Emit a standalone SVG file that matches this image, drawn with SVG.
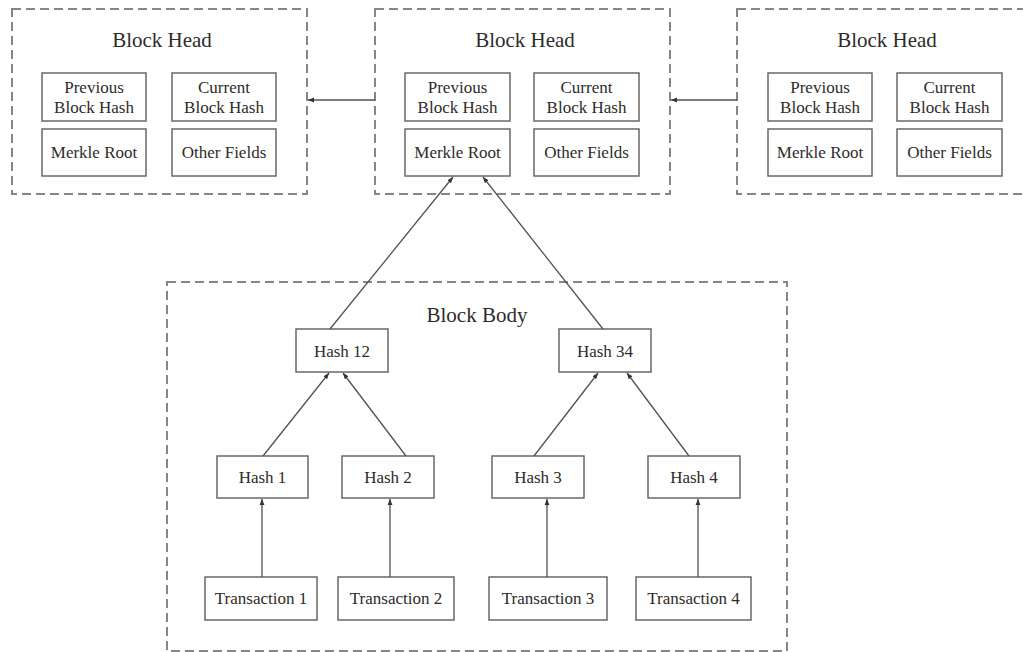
<svg xmlns="http://www.w3.org/2000/svg" width="1023" height="652" viewBox="0 0 1023 652">
<style>
.bg{fill:#fff}
.grp{fill:none;stroke:#8a8482;stroke-width:2;stroke-dasharray:9 5}
.box{fill:#fff;stroke:#6b6766;stroke-width:1.5}
.t{font-family:"Liberation Serif","Times New Roman",serif;font-size:17px;fill:#2e2b2a;text-anchor:middle}
.title{font-family:"Liberation Serif","Times New Roman",serif;font-size:21px;fill:#2e2b2a;text-anchor:middle}
.edge{fill:none;stroke:#555152;stroke-width:1.3;marker-end:url(#ah)}
</style>
<defs>
<marker id="ah" viewBox="0 0 10 10" refX="10" refY="5" markerWidth="6" markerHeight="6" orient="auto" markerUnits="userSpaceOnUse">
<path d="M0,1 L10,5 L0,9 z" fill="#333"/>
</marker>
</defs>
<rect class="bg" x="0" y="0" width="1023" height="652"/>

<g id="head-left">
<rect class="grp" x="12" y="9" width="295" height="185"/>
<text class="title" x="162" y="47">Block Head</text>
<g id="hl-prev"><rect class="box" x="42" y="73" width="104" height="48"/><text class="t" x="94" y="93">Previous</text><text class="t" x="94" y="113">Block Hash</text></g>
<g id="hl-cur"><rect class="box" x="172" y="73" width="104" height="48"/><text class="t" x="224" y="93">Current</text><text class="t" x="224" y="113">Block Hash</text></g>
<g id="hl-merkle"><rect class="box" x="42" y="129" width="104" height="47"/><text class="t" x="94" y="158">Merkle Root</text></g>
<g id="hl-other"><rect class="box" x="172" y="129" width="104" height="47"/><text class="t" x="224" y="158">Other Fields</text></g>
</g>

<g id="head-mid">
<rect class="grp" x="375" y="9" width="295" height="185"/>
<text class="title" x="525" y="47">Block Head</text>
<g id="hm-prev"><rect class="box" x="405" y="73" width="105" height="48"/><text class="t" x="457.5" y="93">Previous</text><text class="t" x="457.5" y="113">Block Hash</text></g>
<g id="hm-cur"><rect class="box" x="534" y="73" width="105" height="48"/><text class="t" x="586.5" y="93">Current</text><text class="t" x="586.5" y="113">Block Hash</text></g>
<g id="hm-merkle"><rect class="box" x="405" y="129" width="105" height="47"/><text class="t" x="457.5" y="158">Merkle Root</text></g>
<g id="hm-other"><rect class="box" x="534" y="129" width="105" height="47"/><text class="t" x="586.5" y="158">Other Fields</text></g>
</g>

<g id="head-right">
<rect class="grp" x="737" y="9" width="295" height="185"/>
<text class="title" x="887" y="47">Block Head</text>
<g id="hr-prev"><rect class="box" x="768" y="73" width="104" height="48"/><text class="t" x="820" y="93">Previous</text><text class="t" x="820" y="113">Block Hash</text></g>
<g id="hr-cur"><rect class="box" x="897" y="73" width="105" height="48"/><text class="t" x="949.5" y="93">Current</text><text class="t" x="949.5" y="113">Block Hash</text></g>
<g id="hr-merkle"><rect class="box" x="768" y="129" width="104" height="47"/><text class="t" x="820" y="158">Merkle Root</text></g>
<g id="hr-other"><rect class="box" x="897" y="129" width="105" height="47"/><text class="t" x="949.5" y="158">Other Fields</text></g>
</g>

<g id="body">
<rect class="grp" x="167" y="282" width="620" height="369"/>
<text class="title" x="477" y="322">Block Body</text>
</g>

<g id="hash12"><rect class="box" x="296" y="329" width="92" height="43"/><text class="t" x="342" y="357">Hash 12</text></g>
<g id="hash34"><rect class="box" x="559" y="329" width="92" height="43"/><text class="t" x="605" y="357">Hash 34</text></g>
<g id="hash1"><rect class="box" x="217" y="456" width="91" height="42"/><text class="t" x="262.5" y="483">Hash 1</text></g>
<g id="hash2"><rect class="box" x="342" y="456" width="92" height="42"/><text class="t" x="388" y="483">Hash 2</text></g>
<g id="hash3"><rect class="box" x="492" y="456" width="92" height="42"/><text class="t" x="538" y="483">Hash 3</text></g>
<g id="hash4"><rect class="box" x="648" y="456" width="92" height="42"/><text class="t" x="694" y="483">Hash 4</text></g>
<g id="tx1"><rect class="box" x="205" y="577" width="112" height="43"/><text class="t" x="261" y="604">Transaction 1</text></g>
<g id="tx2"><rect class="box" x="338" y="577" width="116" height="43"/><text class="t" x="396" y="604">Transaction 2</text></g>
<g id="tx3"><rect class="box" x="489" y="577" width="118" height="43"/><text class="t" x="548" y="604">Transaction 3</text></g>
<g id="tx4"><rect class="box" x="636" y="577" width="115" height="43"/><text class="t" x="693.5" y="604">Transaction 4</text></g>

<g id="connectors">
<line class="edge" x1="375" y1="100" x2="308" y2="100"/>
<line class="edge" x1="737" y1="100" x2="671" y2="100"/>
<line class="edge" x1="330" y1="329" x2="453" y2="177"/>
<line class="edge" x1="603" y1="329" x2="483" y2="177"/>
<line class="edge" x1="263" y1="456" x2="329" y2="373"/>
<line class="edge" x1="406" y1="456" x2="343" y2="373"/>
<line class="edge" x1="534" y1="456" x2="598" y2="373"/>
<line class="edge" x1="689" y1="456" x2="627" y2="373"/>
<line class="edge" x1="262" y1="577" x2="262" y2="499"/>
<line class="edge" x1="390" y1="577" x2="390" y2="499"/>
<line class="edge" x1="547" y1="577" x2="547" y2="499"/>
<line class="edge" x1="698" y1="577" x2="698" y2="499"/>
</g>
</svg>
